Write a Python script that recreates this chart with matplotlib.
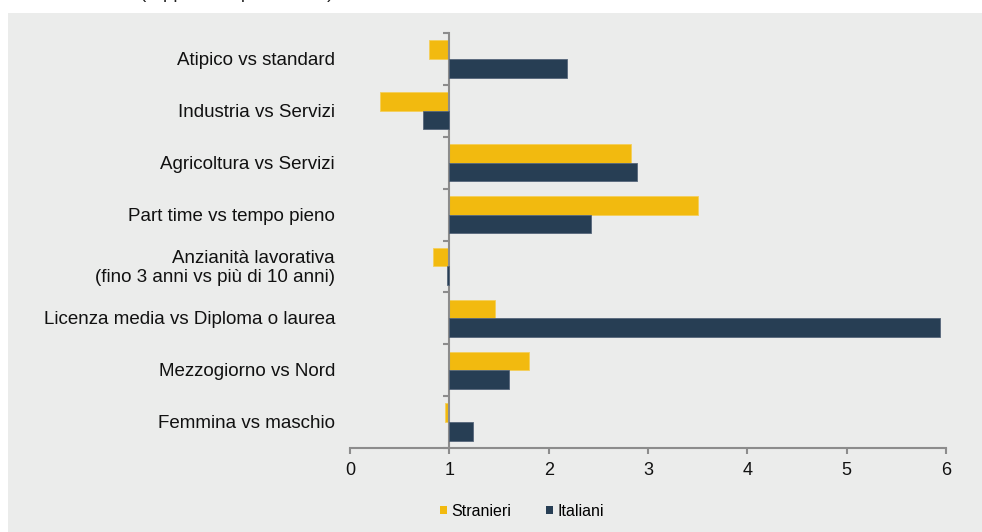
import matplotlib.pyplot as plt
from matplotlib.patches import Rectangle, Patch
from matplotlib.transforms import blended_transform_factory

plt.rcParams['font.family'] = ['Liberation Sans', 'DejaVu Sans']

categories = [
    'Atipico vs standard',
    'Industria vs Servizi',
    'Agricoltura vs Servizi',
    'Part time vs tempo pieno',
    'Anzianità lavorativa\n(fino 3 anni vs più di 10 anni)',
    'Licenza media vs Diploma o laurea',
    'Mezzogiorno vs Nord',
    'Femmina vs maschio',
]
stranieri = [0.80, 0.30, 2.83, 3.50, 0.84, 1.46, 1.80, 0.96]
italiani = [2.18, 0.73, 2.89, 2.43, 0.975, 5.94, 1.60, 1.24]
xticks = [0, 1, 2, 3, 4, 5, 6]

c_str = '#f2ba0f'
c_ita = '#273e54'
grey = '#8c8c8c'
panel = '#ebeceb'

fig = plt.figure(figsize=(9.82, 5.32), dpi=100)
fig.patch.set_facecolor('white')
fig.patches.append(Rectangle((8 / 982, 0), 1 - 8 / 982, (532 - 13) / 532,
                             transform=fig.transFigure, facecolor=panel,
                             edgecolor='none', zorder=-10))
# subtitle sits above the panel, mostly outside the canvas
fig.text(140 / 982, (532 + 2) / 532, '(rapporto di probabilità)', fontsize=13.5,
         ha='left', va='baseline', color='#222222')

ax = fig.add_axes([350 / 982, (532 - 448) / 532, 596 / 982, 415 / 532])
ax.set_facecolor('none')

# bars grow out of the 1.0 baseline (odds ratio)
y = list(range(len(categories)))
h = 0.36
ax.barh([i - h / 2 for i in y], [v - 1 for v in stranieri], left=1, height=h,
        color=c_str, edgecolor='#f5cf5a', linewidth=0.6, zorder=2)
ax.barh([i + h / 2 for i in y], [v - 1 for v in italiani], left=1, height=h,
        color=c_ita, edgecolor='#56667a', linewidth=0.6, zorder=4)

ax.set_xlim(0, 6)
ax.set_ylim(len(categories) - 0.5, -0.5)

for s in ['top', 'right']:
    ax.spines[s].set_visible(False)
ax.spines['left'].set_position(('data', 1))
ax.spines['left'].set_color(grey)
ax.spines['left'].set_linewidth(1.5)
ax.spines['left'].set_zorder(3)
ax.spines['bottom'].set_color(grey)
ax.spines['bottom'].set_linewidth(1.5)

ax.set_yticks([i - 0.5 for i in range(len(categories) + 1)])
ax.set_yticklabels([])
ax.tick_params(axis='y', length=4, width=1.5, color=grey, direction='out')
ax.set_xticks(xticks)
ax.set_xticklabels([str(t) for t in xticks])
ax.tick_params(axis='x', length=4, width=1.5, color=grey, direction='out',
               labelsize=13, pad=6, labelcolor='#111111')

tr = blended_transform_factory(ax.transAxes, ax.transData)
for i, lab in enumerate(categories):
    ax.text(-15 / 596, i + 0.03, lab, transform=tr, ha='right', va='center',
            fontsize=13.5, color='#111111', linespacing=1.2)

handles = [Patch(facecolor=c_str, edgecolor='none', label='Stranieri'),
           Patch(facecolor=c_ita, edgecolor='none', label='Italiani')]
fig.legend(handles=handles, loc='center', bbox_to_anchor=(522 / 982, (532 - 511) / 532),
           ncol=2, frameon=False, fontsize=11.5, handlelength=0.45, handleheight=0.45,
           handletextpad=0.25, columnspacing=2.2)

fig.savefig('out.png', dpi=100, facecolor=fig.get_facecolor())
